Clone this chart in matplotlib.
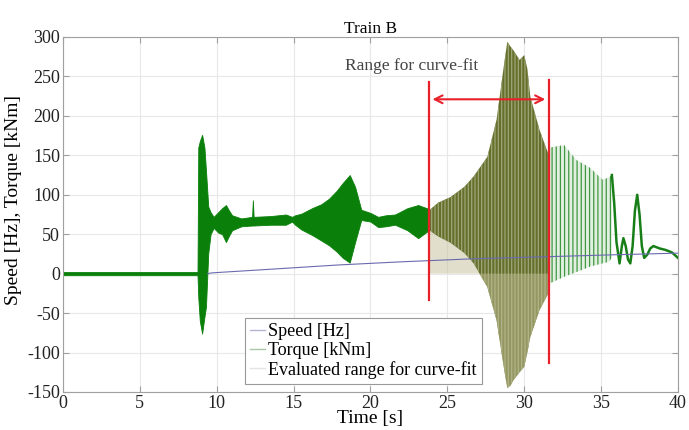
import numpy as np
import matplotlib
matplotlib.use('Agg')
import matplotlib.pyplot as plt
from matplotlib.lines import Line2D

plt.rcParams['font.family'] = ['Liberation Serif', 'DejaVu Serif']
plt.rcParams['axes.unicode_minus'] = False
plt.rcParams['hatch.linewidth'] = 0.9

# torque envelope before the evaluated range [s], [kNm]
t_main = [0, 8.75, 8.8, 8.9, 9.05, 9.2, 9.3, 9.45, 9.6, 9.8, 10.1, 10.35, 10.6, 10.8, 11.0,
          11.6, 12.3, 12.35, 12.4, 13.5, 14.5, 14.9, 15.1, 15.5, 16.2, 16.8, 17.3, 17.8,
          18.2, 18.65, 19.0, 19.4, 20.0, 20.5, 21.0, 21.6, 22.4, 23.1, 23.8]
up_main = [2, 2, 160, 168, 176, 160, 131, 85, 78, 72, 78, 83, 87, 80, 74,
           70, 72, 93, 72, 73, 75, 72, 74, 76, 83, 88, 95, 105,
           115, 125, 110, 81, 77, 72, 74, 75, 83, 87, 82]
lo_main = [-2, -2, -30, -60, -76, -55, -42, 26, 50, 58, 52, 50, 40, 48, 55,
           60, 61, 61, 61, 62, 62, 66, 62, 56, 49, 42, 36, 28,
           20, 14, 40, 68, 66, 59, 60, 62, 55, 45, 55]

# evaluated range for curve-fit
t_eval = [23.8, 24.4, 25.2, 26.1, 26.7, 27.6, 28.2, 28.7, 28.9, 29.1, 29.3, 29.7, 30.0, 30.2, 30.4, 31.0, 31.6]
up_eval = [80, 90, 97, 110, 123, 148, 195, 267, 294, 288, 283, 271, 277, 260, 224, 182, 150]
lo_eval = [55, 47, 39, 26, 13, -17, -59, -122, -145, -142, -135, -125, -118, -100, -80, -46, -24]

# after the range
t_post = [31.6, 31.7, 32.6, 33.4, 34.3, 35.1, 35.5, 35.7]
up_post = [150, 160, 163, 144, 134, 119, 122, 125]
lo_post = [-24, -12, -4, 2, 9, 13, 15, 20]

# slow oscillations at the end
t_tail = [35.7, 35.85, 36.0, 36.2, 36.35, 36.45, 36.6, 36.75, 36.9, 37.05, 37.2, 37.35,
          37.5, 37.65, 37.8, 38.0, 38.2, 38.4, 38.8, 39.2, 39.6, 40.0]
v_tail = [125, 90, 40, 13, 35, 45, 35, 18, 13, 35, 80, 100,
          75, 35, 20, 24, 32, 35, 32, 30, 27, 20]

# speed
t_speed = [9.4, 9.7, 13, 17.9, 22, 26.5, 31.7, 36, 40]
speed = [0, 1, 5, 11, 15, 18.7, 21.6, 24, 26]

fig = plt.figure(figsize=(6.89, 4.30), dpi=100)
ax = fig.add_axes([0.0914, 0.0884, 0.8926, 0.8256])

green = '#0a800a'
ax.fill_between(t_main, lo_main, up_main, color=green, lw=0.6, edgecolor=green, zorder=2)
ax.fill_between(t_eval, lo_eval, up_eval, facecolor='#66702c', edgecolor='#9da676',
                hatch='|||||', lw=0, zorder=2)
ax.fill_between(t_eval, lo_eval, 0, facecolor='#c4bf9a', alpha=0.5, lw=0, zorder=2)
ax.fill_between(t_post, lo_post, up_post, facecolor='#e2f0e2', edgecolor='#3f973f',
                hatch='||||', lw=0, zorder=2)
ax.plot(t_tail, v_tail, color='#187f18', lw=1.8, zorder=3)
ax.plot(t_speed, speed, color='#6a6ab0', lw=0.8, zorder=4)

# curve-fit range markers
red = '#e8202a'
ax.plot([23.8, 23.8], [-33, 243], color=red, lw=1.6, zorder=5)
ax.plot([31.6, 31.6], [-113, 245], color=red, lw=1.6, zorder=5)
ax.annotate('', xy=(23.85, 221), xytext=(31.55, 221),
            arrowprops=dict(arrowstyle='<->', color=red, lw=1.5, mutation_scale=14), zorder=5)
ax.text(18.35, 263, 'Range for curve-fit', fontsize=12.5, color='#444444', va='center', ha='left')

ax.set_xlim(0, 40)
ax.set_ylim(-150, 300)
ax.set_xticks(np.arange(0, 41, 5))
ax.set_yticks(np.arange(-150, 301, 50))
ax.grid(True, color='#e8e8e8', lw=0.8)
ax.set_axisbelow(True)
for s in ax.spines.values():
    s.set_color('#a0a0a0')
ax.tick_params(direction='in', top=True, right=True, length=4, color='#a0a0a0',
               labelsize=13, labelcolor='#222222', pad=2)
ax.set_xlabel('Time [s]', fontsize=14, labelpad=-1)
ax.set_ylabel('Speed [Hz], Torque [kNm]', fontsize=14, labelpad=0)
ax.yaxis.set_label_coords(-0.066, 0.54)
ax.set_title('Train B', fontsize=12.5, pad=3)

handles = [Line2D([], [], color='#b4b4d4', lw=1),
           Line2D([], [], color='#a8c8a8', lw=1),
           Line2D([], [], color='#e4e4e4', lw=1)]
leg = ax.legend(handles, ['Speed [Hz]', 'Torque [kNm]', 'Evaluated range for curve-fit'],
                loc='lower left', bbox_to_anchor=(0.296, 0.0225), fontsize=13,
                fancybox=False, framealpha=1, edgecolor='#999999', handlelength=0.8,
                handletextpad=0.15, borderpad=0.3, labelspacing=0.1, borderaxespad=0)
leg.get_frame().set_linewidth(0.8)

fig.savefig('out.png', dpi=100)
